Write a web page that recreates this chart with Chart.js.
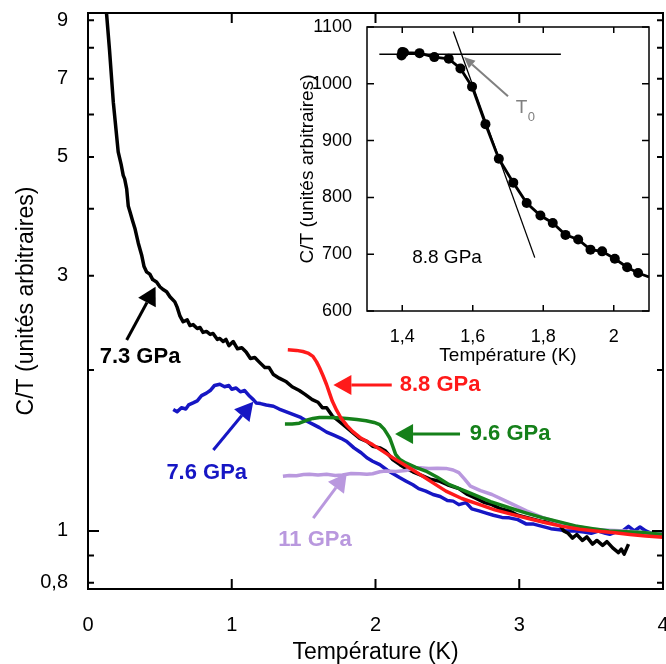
<!DOCTYPE html>
<html>
<head>
<meta charset="utf-8">
<script src="https://cdn.jsdelivr.net/npm/chart.js@4.4.0/dist/chart.umd.min.js"></script>
<style>
  body { margin: 0; background: #fff; }
  #wrap { position: relative; width: 666px; height: 664px; overflow: hidden; }
  #main { position: absolute; left: 0; top: 0; }
  #inset { position: absolute; left: 290px; top: 16px; }
</style>
</head>
<body>
<div id="wrap">
  <canvas id="main" width="666" height="664"></canvas>
  <canvas id="inset" width="370" height="352"></canvas>
</div>
<script>
/* ── Main plot data: temperature (K) / C/T (arb. units) ── */
const t73 = [0.11, 0.13, 0.15, 0.176, 0.19, 0.21, 0.23, 0.245, 0.255, 0.269, 0.28, 0.292, 0.31, 0.326, 0.35, 0.373, 0.39, 0.407, 0.43, 0.45, 0.477, 0.50, 0.52, 0.547, 0.57, 0.604, 0.62, 0.64, 0.662, 0.69, 0.71, 0.731, 0.76, 0.78, 0.80, 0.824, 0.85, 0.87, 0.90, 0.917, 0.94, 0.96, 0.98, 1.01, 1.04, 1.07, 1.10, 1.13, 1.16, 1.19, 1.23, 1.26, 1.29, 1.33, 1.38, 1.42, 1.47, 1.51, 1.56, 1.60, 1.63, 1.66, 1.70, 1.75, 1.80, 1.85, 1.89, 1.94, 1.98, 2.03, 2.07, 2.12, 2.17, 2.21, 2.26, 2.32, 2.38, 2.44, 2.50, 2.58, 2.64, 2.70, 2.76, 2.81, 2.87, 2.93, 2.99, 3.05, 3.11, 3.17, 3.23, 3.28, 3.31, 3.34, 3.37, 3.40, 3.44, 3.47, 3.51, 3.54, 3.58, 3.61, 3.65, 3.69, 3.71, 3.73, 3.76];
const c73 = [10.5, 9.2, 7.9, 6.33, 5.8, 5.11, 4.85, 4.62, 4.55, 4.36, 4.05, 3.95, 3.80, 3.68, 3.45, 3.28, 3.12, 3.05, 3.02, 2.95, 2.92, 2.86, 2.83, 2.80, 2.74, 2.68, 2.62, 2.52, 2.46, 2.48, 2.42, 2.43, 2.39, 2.40, 2.35, 2.36, 2.33, 2.34, 2.28, 2.29, 2.26, 2.28, 2.22, 2.26, 2.19, 2.20, 2.16, 2.10, 2.11, 2.07, 2.02, 2.02, 1.96, 1.93, 1.90, 1.86, 1.83, 1.80, 1.76, 1.74, 1.70, 1.70, 1.64, 1.60, 1.56, 1.52, 1.49, 1.47, 1.44, 1.43, 1.41, 1.36, 1.33, 1.31, 1.29, 1.27, 1.25, 1.24, 1.22, 1.20, 1.17, 1.15, 1.13, 1.12, 1.10, 1.09, 1.07, 1.06, 1.05, 1.04, 1.04, 1.03, 1.00, 0.99, 0.97, 0.985, 0.96, 0.975, 0.945, 0.96, 0.94, 0.955, 0.93, 0.911, 0.925, 0.905, 0.945];

const t76 = [0.593, 0.62, 0.65, 0.68, 0.70, 0.731, 0.76, 0.79, 0.824, 0.85, 0.88, 0.917, 0.95, 0.98, 1.00, 1.03, 1.06, 1.09, 1.125, 1.15, 1.17, 1.20, 1.24, 1.29, 1.33, 1.38, 1.43, 1.48, 1.53, 1.57, 1.61, 1.66, 1.71, 1.76, 1.80, 1.85, 1.90, 1.94, 1.98, 2.03, 2.08, 2.12, 2.17, 2.21, 2.26, 2.30, 2.35, 2.40, 2.45, 2.50, 2.54, 2.58, 2.63, 2.67, 2.72, 2.77, 2.82, 2.88, 2.93, 2.99, 3.05, 3.10, 3.16, 3.22, 3.28, 3.33, 3.39, 3.45, 3.50, 3.55, 3.60, 3.63, 3.67, 3.72, 3.76, 3.80, 3.84, 3.88, 3.92, 3.96, 4.0];
const c76 = [1.686, 1.67, 1.70, 1.69, 1.72, 1.735, 1.75, 1.79, 1.81, 1.83, 1.87, 1.88, 1.86, 1.87, 1.84, 1.85, 1.82, 1.83, 1.785, 1.76, 1.735, 1.73, 1.72, 1.71, 1.69, 1.67, 1.65, 1.63, 1.60, 1.58, 1.56, 1.53, 1.51, 1.49, 1.47, 1.43, 1.40, 1.37, 1.35, 1.33, 1.30, 1.28, 1.257, 1.24, 1.22, 1.20, 1.187, 1.17, 1.16, 1.14, 1.137, 1.12, 1.13, 1.10, 1.09, 1.08, 1.07, 1.06, 1.058, 1.05, 1.03, 1.03, 1.02, 1.01, 1.005, 1.0, 1.0, 0.995, 0.99, 1.0, 0.99, 0.986, 0.995, 1.0, 1.02, 1.0, 1.017, 1.0, 0.99, 0.995, 0.99];

const t88 = [1.39, 1.45, 1.495, 1.53, 1.565, 1.59, 1.61, 1.635, 1.66, 1.68, 1.70, 1.73, 1.76, 1.80, 1.84, 1.90, 1.98, 2.05, 2.12, 2.20, 2.31, 2.40, 2.49, 2.60, 2.72, 2.83, 2.95, 3.07, 3.185, 3.30, 3.42, 3.53, 3.65, 3.77, 3.88, 4.0];
const c88 = [2.18, 2.175, 2.165, 2.15, 2.12, 2.07, 2.02, 1.95, 1.876, 1.81, 1.747, 1.68, 1.626, 1.575, 1.535, 1.49, 1.45, 1.41, 1.37, 1.33, 1.275, 1.23, 1.187, 1.15, 1.121, 1.095, 1.074, 1.054, 1.036, 1.02, 1.007, 1.0, 0.993, 0.985, 0.979, 0.973];

const t96 = [1.37, 1.42, 1.47, 1.52, 1.565, 1.61, 1.66, 1.73, 1.80, 1.87, 1.935, 1.99, 2.03, 2.06, 2.08, 2.10, 2.12, 2.14, 2.17, 2.21, 2.28, 2.35, 2.43, 2.51, 2.60, 2.68, 2.80, 2.93, 3.05, 3.16, 3.28, 3.39, 3.51, 3.625, 3.74, 3.86, 4.0];
const c96 = [1.585, 1.585, 1.59, 1.61, 1.623, 1.63, 1.63, 1.628, 1.623, 1.615, 1.607, 1.595, 1.58, 1.55, 1.52, 1.49, 1.44, 1.39, 1.36, 1.34, 1.315, 1.294, 1.26, 1.222, 1.195, 1.17, 1.135, 1.105, 1.08, 1.059, 1.04, 1.022, 1.01, 1.0, 0.997, 0.993, 0.985];

const t11 = [1.356, 1.40, 1.45, 1.50, 1.54, 1.60, 1.66, 1.72, 1.77, 1.83, 1.89, 1.94, 1.98, 2.03, 2.07, 2.14, 2.21, 2.27, 2.31, 2.37, 2.43, 2.49, 2.54, 2.58, 2.62, 2.66, 2.73, 2.81, 2.93, 3.05, 3.16, 3.28, 3.40, 3.51, 3.62, 3.74, 3.86, 4.0];
const c11 = [1.266, 1.27, 1.268, 1.275, 1.276, 1.272, 1.276, 1.27, 1.272, 1.28, 1.279, 1.276, 1.279, 1.29, 1.294, 1.292, 1.297, 1.31, 1.312, 1.308, 1.31, 1.309, 1.30, 1.285, 1.25, 1.213, 1.19, 1.17, 1.13, 1.09, 1.06, 1.036, 1.02, 1.007, 1.003, 1.0, 0.993, 0.986];

const xTicks = [0, 1, 2, 3, 4];
const yTicks = [0.8, 0.9, 1, 2, 3, 4, 5, 6, 7, 8, 9];
const yLabelled = [0.8, 1, 3, 5, 7, 9];

// pressure labels and their arrows (data units)
const gpaText = ['7.3 GPa', '7.6 GPa', '8.8 GPa', '9.6 GPa', '11 GPa'];
const gpaLabelT = [0.362, 0.826, 2.449, 2.936, 1.579];
const gpaLabelC = [2.115, 1.284, 1.875, 1.518, 0.962];
const arrowFromT = [0.269, 0.872, 2.113, 2.588, 1.567];
const arrowFromC = [2.275, 1.417, 1.875, 1.518, 1.057];
const arrowToT = [0.47, 1.15, 1.707, 2.136, 1.80];
const arrowToC = [2.86, 1.744, 1.875, 1.518, 1.282];

/* ── Inset data (8.8 GPa) ── */
const insetT = [1.398, 1.400, 1.405, 1.449, 1.491, 1.532, 1.565, 1.598, 1.636, 1.674, 1.715, 1.753, 1.792, 1.827, 1.863, 1.899, 1.934, 1.967, 2.003, 2.038, 2.069, 2.10];
const insetC = [1050, 1056, 1055, 1054, 1047, 1044, 1027, 995, 929, 868, 826, 790, 768, 755, 734, 726, 708, 705, 692, 677, 667, 660];
const flatT = [1.335, 1.85];
const flatC = [1052, 1052];
const steepT = [1.545, 1.776];
const steepC = [1092, 694];
const insetXTicks = [1.4, 1.6, 1.8, 2.0];
const insetYTicks = [600, 700, 800, 900, 1000, 1100];

/* ── Style ── */
const FONT = "'Liberation Sans', Arial, sans-serif";
const colors = ['#000000', '#1616c4', '#ff1a1a', '#15801a', '#b998de'];
const fr = v => String(v).replace('.', ',');
const pts = (xs, ys) => xs.map((x, i) => ({ x, y: ys[i] }));

function drawArrow(ctx, x1, y1, x2, y2, color, lw, hl, hw) {
  const a = Math.atan2(y2 - y1, x2 - x1);
  const bx = x2 - hl * Math.cos(a), by = y2 - hl * Math.sin(a);
  ctx.save();
  ctx.strokeStyle = color; ctx.fillStyle = color; ctx.lineWidth = lw;
  ctx.beginPath(); ctx.moveTo(x1, y1); ctx.lineTo(bx, by); ctx.stroke();
  ctx.beginPath();
  ctx.moveTo(x2, y2);
  ctx.lineTo(bx + hw / 2 * Math.sin(a), by - hw / 2 * Math.cos(a));
  ctx.lineTo(bx - hw / 2 * Math.sin(a), by + hw / 2 * Math.cos(a));
  ctx.closePath(); ctx.fill();
  ctx.restore();
}

// frame + inward ticks on all four sides
function boxPlugin(lw, xLen, yLen) {
  return {
    id: 'box',
    afterDatasetsDraw(chart) {
      const { ctx, chartArea: a, scales: { x, y } } = chart;
      ctx.save();
      ctx.strokeStyle = '#000';
      ctx.lineWidth = lw;
      ctx.beginPath();
      x.ticks.forEach(t => {
        const px = x.getPixelForValue(t.value);
        ctx.moveTo(px, a.bottom); ctx.lineTo(px, a.bottom - xLen(t.value));
        ctx.moveTo(px, a.top); ctx.lineTo(px, a.top + xLen(t.value));
      });
      y.ticks.forEach(t => {
        const py = y.getPixelForValue(t.value);
        ctx.moveTo(a.left, py); ctx.lineTo(a.left + yLen(t.value), py);
        ctx.moveTo(a.right, py); ctx.lineTo(a.right - yLen(t.value), py);
      });
      ctx.stroke();
      ctx.strokeRect(a.left, a.top, a.right - a.left, a.bottom - a.top);
      ctx.restore();
    }
  };
}

const labelsPlugin = {
  id: 'gpa',
  afterDatasetsDraw(chart) {
    const { ctx, scales: { x, y } } = chart;
    gpaText.forEach((txt, i) => {
      drawArrow(ctx, x.getPixelForValue(arrowFromT[i]), y.getPixelForValue(arrowFromC[i]),
        x.getPixelForValue(arrowToT[i]), y.getPixelForValue(arrowToC[i]), colors[i], 3, 18, 20);
      ctx.save();
      ctx.fillStyle = colors[i];
      ctx.font = 'bold 22px ' + FONT;
      ctx.textAlign = 'center';
      ctx.textBaseline = 'middle';
      ctx.fillText(txt, x.getPixelForValue(gpaLabelT[i]), y.getPixelForValue(gpaLabelC[i]));
      ctx.restore();
    });
  }
};

const line = (data, color, w) => ({
  data, borderColor: color, borderWidth: w, pointRadius: 0,
  tension: 0, fill: false, clip: 0, borderJoinStyle: 'round'
});

// fixed axis boxes, no label overhang padding
const fitX = h => s => { s.height = h; s.paddingLeft = 0; s.paddingRight = 0; };
const fitY = w => s => { s.width = w; s.paddingTop = 0; s.paddingBottom = 0; };

new Chart(document.getElementById('main'), {
  type: 'line',
  data: {
    datasets: [
      line(pts(t88, c88), colors[2], 3.5),
      line(pts(t96, c96), colors[3], 3.5),
      line(pts(t11, c11), colors[4], 3.5),
      line(pts(t73, c73), colors[0], 3.5),
      line(pts(t76, c76), colors[1], 3.5)
    ]
  },
  options: {
    responsive: false,
    animation: false,
    devicePixelRatio: 1,
    layout: { padding: { top: 13, right: 3, left: 0, bottom: 0 } },
    plugins: { legend: { display: false }, tooltip: { enabled: false } },
    scales: {
      x: {
        type: 'linear', min: 0, max: 4,
        afterBuildTicks: s => { s.ticks = xTicks.map(v => ({ value: v })); },
        afterFit: fitX(75),
        grid: { display: false }, border: { display: false },
        ticks: { autoSkip: false, maxRotation: 0, padding: 16, color: '#000', font: { family: FONT, size: 20 }, callback: v => fr(v) },
        title: { display: true, text: 'Température (K)', color: '#000', padding: { top: 0, bottom: 0 }, font: { family: FONT, size: 23, lineHeight: 1 } }
      },
      y: {
        type: 'logarithmic', min: 0.779, max: 9.29,
        afterBuildTicks: s => { s.ticks = yTicks.map(v => ({ value: v })); },
        afterFit: fitY(88),
        grid: { display: false }, border: { display: false },
        ticks: {
          autoSkip: false, padding: 12, color: '#000', font: { family: FONT, size: 20 },
          callback: v => yLabelled.includes(v) ? fr(v) : ''
        },
        title: { display: true, text: 'C/T (unités arbitraires)', color: '#000', padding: { top: 15, bottom: 0 }, font: { family: FONT, size: 23, lineHeight: 1 } }
      }
    }
  },
  plugins: [boxPlugin(2, () => 10, v => (v === 1 ? 11 : 6)), labelsPlugin]
});

/* ── Inset ── */
const insetNotes = {
  id: 'notes',
  afterDatasetsDraw(chart) {
    const { ctx, scales: { x, y } } = chart;
    drawArrow(ctx, x.getPixelForValue(1.70), y.getPixelForValue(978),
      x.getPixelForValue(1.575), y.getPixelForValue(1047), '#808080', 2, 11, 10);
    ctx.save();
    ctx.fillStyle = '#808080';
    ctx.textBaseline = 'middle';
    ctx.font = '19px ' + FONT;
    ctx.fillText('T', x.getPixelForValue(1.722), y.getPixelForValue(957));
    ctx.font = '13px ' + FONT;
    ctx.fillText('0', x.getPixelForValue(1.756), y.getPixelForValue(940));
    ctx.fillStyle = '#000';
    ctx.textAlign = 'center';
    ctx.font = '19px ' + FONT;
    ctx.fillText('8.8 GPa', x.getPixelForValue(1.527), y.getPixelForValue(693));
    ctx.restore();
  }
};

new Chart(document.getElementById('inset'), {
  type: 'line',
  data: {
    datasets: [
      {
        data: pts(insetT, insetC), borderColor: '#000', borderWidth: 2.8, tension: 0, clip: 0,
        pointRadius: insetT.map((v, i) => (i === insetT.length - 1 ? 0 : 5)),
        pointBackgroundColor: '#000', pointBorderWidth: 0
      },
      { data: pts(flatT, flatC), borderColor: '#000', borderWidth: 1.3, pointRadius: 0 },
      { data: pts(steepT, steepC), borderColor: '#000', borderWidth: 1.3, pointRadius: 0 }
    ]
  },
  options: {
    responsive: false,
    animation: false,
    devicePixelRatio: 1,
    layout: { padding: { top: 11, right: 11, left: 0, bottom: 0 } },
    plugins: { legend: { display: false }, tooltip: { enabled: false } },
    scales: {
      x: {
        type: 'linear', min: 1.3, max: 2.1,
        afterBuildTicks: s => { s.ticks = insetXTicks.map(v => ({ value: v })); },
        afterFit: fitX(57),
        grid: { display: false }, border: { display: false },
        ticks: { autoSkip: false, maxRotation: 0, padding: 7, color: '#000', font: { family: FONT, size: 18 }, callback: v => fr(v) },
        title: { display: true, text: 'Température (K)', color: '#000', padding: { top: 0, bottom: 3 }, font: { family: FONT, size: 19, lineHeight: 1 } }
      },
      y: {
        type: 'linear', min: 600, max: 1100,
        afterBuildTicks: s => { s.ticks = insetYTicks.map(v => ({ value: v })); },
        afterFit: fitY(77),
        grid: { display: false }, border: { display: false },
        ticks: { autoSkip: false, padding: 7, color: '#000', font: { family: FONT, size: 18 }, callback: v => String(v) },
        title: { display: true, text: 'C/T (unités arbitraires)', color: '#000', padding: { top: 8, bottom: 0 }, font: { family: FONT, size: 19, lineHeight: 1 } }
      }
    }
  },
  plugins: [boxPlugin(1.5, () => 6, () => 7), insetNotes]
});
</script>
</body>
</html>
